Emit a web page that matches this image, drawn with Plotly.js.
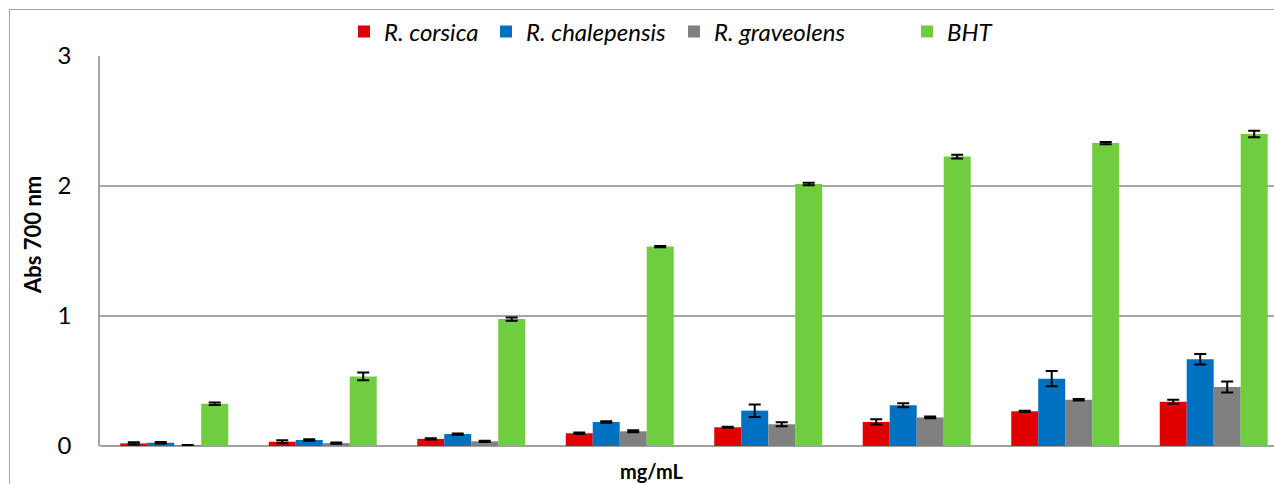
<!DOCTYPE html>
<html>
<head>
<meta charset="utf-8">
<script src="https://cdn.plot.ly/plotly-3.0.1.min.js"></script>
<style>
  html, body { margin: 0; padding: 0; background: #fff; overflow: hidden; }
  #wrap { position: relative; width: 1274px; height: 484px; }
  #frame { position: absolute; left: 9px; top: 9px; right: -4px; bottom: -4px;
           border-left: 1.5px solid #a6a6a6; border-top: 1.5px solid #a6a6a6; pointer-events: none; }
  #chart { position: absolute; left: 0; top: 0; width: 1274px; height: 484px; }
</style>
</head>
<body>
<div id="wrap">
  <div id="chart"></div>
  <div id="frame"></div>
</div>
<script>
// Eight concentration levels (unlabelled on the axis)
const categories = [0, 1, 2, 3, 4, 5, 6, 7];

const seriesNames = ['R. corsica', 'R. chalepensis', 'R. graveolens', 'BHT'];
const seriesColors = ['#e00000', '#0070c0', '#808080', '#70cd40'];

// Absorbance at 700 nm (mean) and standard deviation
const corsica      = [0.020, 0.033, 0.055, 0.098, 0.144, 0.185, 0.267, 0.340];
const corsicaSd    = [0.008, 0.012, 0.005, 0.006, 0.004, 0.020, 0.005, 0.015];
const chalepensis  = [0.025, 0.046, 0.092, 0.185, 0.272, 0.313, 0.518, 0.667];
const chalepensisSd= [0.006, 0.005, 0.005, 0.006, 0.048, 0.015, 0.059, 0.040];
const graveolens   = [0.005, 0.022, 0.036, 0.113, 0.167, 0.220, 0.356, 0.454];
const graveolensSd = [0.002, 0.005, 0.005, 0.008, 0.015, 0.006, 0.006, 0.042];
const bht          = [0.325, 0.535, 0.976, 1.534, 2.015, 2.226, 2.330, 2.400];
const bhtSd        = [0.010, 0.030, 0.012, 0.005, 0.010, 0.015, 0.008, 0.025];

const yTicks = [0, 1, 2, 3];

const values = [corsica, chalepensis, graveolens, bht];
const errors = [corsicaSd, chalepensisSd, graveolensSd, bhtSd];

// one legend box per series so each entry sits at its own spot along the top
const legendIds = ['legend', 'legend2', 'legend3', 'legend4'];
const legendLeft = [344, 486, 674, 907];   // px from the left edge

const traces = seriesNames.map((name, i) => ({
  type: 'bar',
  name: name,
  x: categories,
  y: values[i],
  legend: legendIds[i],
  marker: { color: seriesColors[i], line: { width: 0 } },
  error_y: { type: 'data', array: errors[i], visible: true,
             color: '#000', thickness: 2, width: 6 },
  hoverinfo: 'y'
}));

const layout = {
  width: 1274,
  height: 484,
  margin: { l: 100, r: 0, t: 56, b: 38 },
  paper_bgcolor: 'rgba(0,0,0,0)',
  plot_bgcolor: '#fff',
  font: { family: 'Lato, "Open Sans", sans-serif', color: '#000' },
  barmode: 'group',
  bargap: 0.273,
  bargroupgap: 0,
  showlegend: true,
  xaxis: {
    type: 'linear',
    range: [-0.5, 7.406],
    showticklabels: false,
    ticks: '',
    showgrid: false,
    zeroline: false,
    showline: false,
    fixedrange: true
  },
  yaxis: {
    range: [0, 3],
    tickvals: yTicks,
    ticktext: yTicks.map(String),
    ticks: '',
    ticklabelstandoff: 22,
    tickfont: { size: 24, color: '#000' },
    showgrid: true,
    gridcolor: '#a6a6a6',
    gridwidth: 1.5,
    zeroline: true,
    zerolinecolor: '#a0a0a0',
    zerolinewidth: 2,
    showline: true,
    linecolor: '#a6a6a6',
    linewidth: 1.5,
    fixedrange: true
  },
  annotations: [
    { text: '<b>Abs 700 nm</b>', xref: 'paper', yref: 'paper',
      x: -0.058, y: 0.541, xanchor: 'center', yanchor: 'middle',
      textangle: -90, showarrow: false, font: { size: 22, color: '#000' } },
    { text: '<b>mg/mL</b>', xref: 'paper', yref: 'paper',
      x: 0.47, y: -0.063, xanchor: 'center', yanchor: 'middle',
      showarrow: false, font: { size: 20, color: '#000' } }
  ]
};

legendIds.forEach((id, i) => {
  layout[id] = {
    orientation: 'h',
    x: legendLeft[i] / 1274, xref: 'container', xanchor: 'left',
    y: 1 - 32 / 484, yref: 'container', yanchor: 'middle',
    bgcolor: 'rgba(0,0,0,0)',
    font: { size: 24, style: 'italic', color: '#000' },
    itemclick: false, itemdoubleclick: false
  };
});

Plotly.newPlot('chart', traces, layout, { displayModeBar: false });
</script>
</body>
</html>
